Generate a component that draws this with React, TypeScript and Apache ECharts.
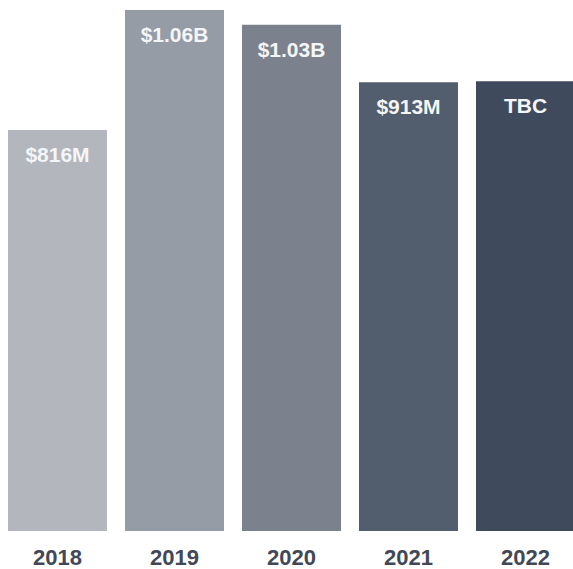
import React, { useEffect, useRef } from "react";
import * as echarts from "echarts";

const years = ["2018", "2019", "2020", "2021", "2022"];
const revenue = [816, 1060, 1030, 913, 915];
const valueLabels = ["$816M", "$1.06B", "$1.03B", "$913M", "TBC"];
const barColors = ["#b3b6bd", "#959ca6", "#7b828d", "#525d6d", "#3f4a5c"];

export default function App() {
  const ref = useRef<HTMLDivElement>(null);
  useEffect(() => {
    if (!ref.current) return;
    const chart = echarts.init(ref.current, undefined, { renderer: "svg" });
    chart.setOption({
      animation: false,
      grid: { left: 0, width: 585, top: 10, bottom: 38 },
      xAxis: {
        type: "category",
        data: years,
        axisLine: { show: false },
        axisTick: { show: false },
        axisLabel: {
          color: "#424855",
          fontSize: 22,
          fontWeight: "bold",
          fontFamily: "Liberation Sans, Arial, sans-serif",
          margin: 15,
        },
      },
      yAxis: { type: "value", min: 0, max: 1060, show: false },
      series: [
        {
          type: "bar",
          barWidth: 99,
          data: revenue.map((v, i) => ({
            value: v,
            itemStyle: { color: barColors[i] },
          })),
          label: {
            show: true,
            position: "insideTop",
            distance: 14,
            color: "#f4f5f7",
            fontSize: 21,
            fontWeight: "bold",
            fontFamily: "Liberation Sans, Arial, sans-serif",
            formatter: (p: any) => valueLabels[p.dataIndex],
          },
        },
      ],
    });
    return () => chart.dispose();
  }, []);
  return (
    <div
      style={{
        position: "absolute",
        left: 0,
        top: 0,
        width: 573,
        height: 569,
        overflow: "hidden",
      }}
    >
      <div
        ref={ref}
        style={{ position: "absolute", left: -1, top: 0, width: 600, height: 569 }}
      />
    </div>
  );
}
